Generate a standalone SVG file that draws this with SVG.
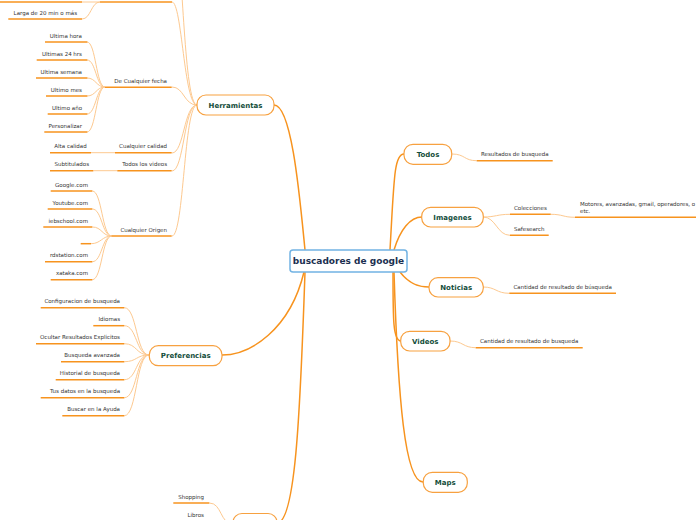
<svg xmlns="http://www.w3.org/2000/svg" width="696" height="520" viewBox="0 0 696 520">
<style>
.main{fill:none;stroke:#f7931e;stroke-width:1.5}
.sub{fill:none;stroke:#fdc990;stroke-width:1}
.ul{stroke:#f7931e;stroke-width:1.5}
.box{fill:#fff;stroke:#f7a140;stroke-width:1.2}
.root{fill:#fff;stroke:#72b3e3;stroke-width:1.5}
.nt{font-family:"DejaVu Sans",Verdana,sans-serif;font-size:7px;font-weight:bold;fill:#134d3a;text-anchor:middle}
.rt{font-family:"DejaVu Sans",Verdana,sans-serif;font-size:9px;font-weight:bold;fill:#1b2f50;text-anchor:middle}
.t{font-family:"DejaVu Sans",Verdana,sans-serif;font-size:5.5px;fill:#333}
.e{text-anchor:end}
</style>
<rect width="696" height="520" fill="#fff"/>
<g id="connectors">
<path class="main" d="M305 250 C300 200 292 105 274 105"/>
<path class="main" d="M304 272 C290 330 250 355 222 355"/>
<path class="main" d="M305 272 C300 420 295 523 277 523"/>
<path class="main" d="M390 250 C394 180 394 154 404 154"/>
<path class="main" d="M394 250 C400 230 410 217 422 217"/>
<path class="main" d="M400 272 C410 285 420 287 429 287"/>
<path class="main" d="M393 272 C393 320 393 341 401 341"/>
<path class="main" d="M394 272 C398 400 405 482 423 482"/>
<path class="sub" d="M197 105 C184 105 182 2 172 2"/>
<path class="sub" d="M197 105 C184 105 183 -40 176 -60"/>
<path class="sub" d="M197 105 C184 105 184 87 172 87"/>
<path class="sub" d="M197 105 C184 105 184 153 172 153"/>
<path class="sub" d="M197 105 C184 105 184 171 172 171"/>
<path class="sub" d="M197 105 C184 105 184 236 172 236"/>
<path class="sub" d="M82 2 L100 2"/>
<path class="sub" d="M100 2 C91 2 91 19 82 19"/>
<path class="sub" d="M105 87 C96 87 96 42 87 42"/>
<path class="sub" d="M105 87 C96 87 96 60 87 60"/>
<path class="sub" d="M105 87 C96 87 96 78 87 78"/>
<path class="sub" d="M105 87 C96 87 96 96 87 96"/>
<path class="sub" d="M105 87 C96 87 96 114 87 114"/>
<path class="sub" d="M105 87 C96 87 96 132 87 132"/>
<path class="sub" d="M91 152.7 L115 152.7"/>
<path class="sub" d="M93.3 170.7 L117.3 170.7"/>
<path class="sub" d="M111.7 236 C102 236 102 191 92.3 191"/>
<path class="sub" d="M111.7 236 C102 236 102 209 92.3 209"/>
<path class="sub" d="M111.7 236 C102 236 102 227 92.3 227"/>
<path class="sub" d="M111.7 236 C102 236 101 243.7 91 243.7"/>
<path class="sub" d="M111.7 236 C102 236 102 261.7 92.3 261.7"/>
<path class="sub" d="M111.7 236 C102 236 102 279.7 92.3 279.7"/>
<path class="sub" d="M149 355 C136 355 137 307.7 124.3 307.7"/>
<path class="sub" d="M149 355 C136 355 137 325.7 124.3 325.7"/>
<path class="sub" d="M149 355 C136 355 137 343.7 124.3 343.7"/>
<path class="sub" d="M149 355 C136 355 137 361.7 124.3 361.7"/>
<path class="sub" d="M149 355 C136 355 137 379.7 124.3 379.7"/>
<path class="sub" d="M149 355 C136 355 137 397.7 124.3 397.7"/>
<path class="sub" d="M149 355 C136 355 137 415.7 124.3 415.7"/>
<path class="sub" d="M233 524 C220 524 222 503 209.3 503"/>
<path class="sub" d="M233 524 C222 524 220 521.5 209.3 521.5"/>
<path class="sub" d="M452 154 C465 154 464 160.7 476.7 160.7"/>
<path class="sub" d="M483 217 C496 217 497 214.3 510 214.3"/>
<path class="sub" d="M483 217 C496 217 497 235.3 510 235.3"/>
<path class="sub" d="M550.7 214.3 C563 214.3 563 217.3 575 217.3"/>
<path class="sub" d="M483 287 C496 287 496 293.3 509.3 293.3"/>
<path class="sub" d="M450 341 C463 341 463 347.7 475.7 347.7"/>
</g>
<g id="root"><rect class="root" x="290" y="250" width="117" height="22" rx="3"/><text class="rt" x="348.5" y="264.2">buscadores de google</text></g>
<g id="herramientas"><rect class="box" x="197" y="95" width="77" height="20" rx="9"/><text class="nt" x="235.5" y="107.5">Herramientas</text></g>
<g id="preferencias"><rect class="box" x="149.3" y="345.7" width="72.7" height="20" rx="9"/><text class="nt" x="185.7" y="358.2">Preferencias</text></g>
<g id="bottom-node"><rect class="box" x="233" y="513.5" width="44" height="20" rx="9"/></g>
<g id="todos"><rect class="box" x="404" y="144.3" width="47.7" height="20" rx="9"/><text class="nt" x="428" y="156.8">Todos</text></g>
<g id="imagenes"><rect class="box" x="421.7" y="207.3" width="61.6" height="19.7" rx="9"/><text class="nt" x="452.5" y="219.6">Imagenes</text></g>
<g id="noticias"><rect class="box" x="429" y="277.7" width="54.3" height="19.3" rx="9"/><text class="nt" x="456.2" y="289.8">Noticias</text></g>
<g id="videos"><rect class="box" x="400.7" y="331.3" width="49.3" height="19.7" rx="9"/><text class="nt" x="425.3" y="343.6">Videos</text></g>
<g id="maps"><rect class="box" x="423.3" y="472.3" width="44" height="20" rx="9"/><text class="nt" x="445.3" y="484.8">Maps</text></g>
<g id="duracion"><line class="ul" x1="100" y1="2" x2="172" y2="2"/></g>
<g id="dur-child1"><line class="ul" x1="0" y1="2" x2="82" y2="2"/></g>
<g id="larga"><line class="ul" x1="8.3" y1="19" x2="82" y2="19"/><text class="t e" x="77" y="15">Larga de 20 min o más</text></g>
<g id="fecha"><line class="ul" x1="105" y1="87.3" x2="171.7" y2="87.3"/><text class="t e" x="167" y="83">De Cualquier fecha</text></g>
<g id="hora"><line class="ul" x1="45" y1="42" x2="87.3" y2="42"/><text class="t e" x="82" y="37.5">Ultima hora</text></g>
<g id="h24"><line class="ul" x1="36.7" y1="60" x2="87.3" y2="60"/><text class="t e" x="82" y="55.5">Ultimas 24 hrs</text></g>
<g id="semana"><line class="ul" x1="36" y1="78" x2="87.3" y2="78"/><text class="t e" x="82" y="73.5">Ultima semana</text></g>
<g id="mes"><line class="ul" x1="46" y1="96" x2="87.3" y2="96"/><text class="t e" x="82" y="91.5">Ultimo mes</text></g>
<g id="anio"><line class="ul" x1="47.7" y1="114" x2="87.3" y2="114"/><text class="t e" x="82" y="109.5">Ultimo año</text></g>
<g id="personalizar"><line class="ul" x1="44.3" y1="132" x2="87.3" y2="132"/><text class="t e" x="82" y="127.5">Personalizar</text></g>
<g id="calidad"><line class="ul" x1="115" y1="152.7" x2="171.7" y2="152.7"/><text class="t e" x="167" y="148.2">Cualquier calidad</text></g>
<g id="alta"><line class="ul" x1="50" y1="152.7" x2="91" y2="152.7"/><text class="t e" x="86.7" y="148.2">Alta calidad</text></g>
<g id="videos-todos"><line class="ul" x1="117.3" y1="170.7" x2="171.7" y2="170.7"/><text class="t e" x="167" y="166.2">Todos los videos</text></g>
<g id="subtitulados"><line class="ul" x1="50" y1="170.7" x2="93.3" y2="170.7"/><text class="t e" x="89" y="166.2">Subtitulados</text></g>
<g id="origen"><line class="ul" x1="111.7" y1="236" x2="171.7" y2="236"/><text class="t e" x="167" y="231.5">Cualquier Origen</text></g>
<g id="google"><line class="ul" x1="50.7" y1="191" x2="92.3" y2="191"/><text class="t e" x="88" y="186.5">Google.com</text></g>
<g id="youtube"><line class="ul" x1="47.7" y1="209" x2="92.3" y2="209"/><text class="t e" x="88" y="204.5">Youtube.com</text></g>
<g id="iebschool"><line class="ul" x1="43.3" y1="227" x2="92.3" y2="227"/><text class="t e" x="88" y="222.5">iebschool.com</text></g>
<g id="empty"><line class="ul" x1="80.7" y1="243.7" x2="91" y2="243.7"/></g>
<g id="rdstation"><line class="ul" x1="45" y1="261.7" x2="92.3" y2="261.7"/><text class="t e" x="88" y="257.2">rdstation.com</text></g>
<g id="xataka"><line class="ul" x1="50.7" y1="279.7" x2="92.3" y2="279.7"/><text class="t e" x="88" y="275.2">xataka.com</text></g>
<g id="config"><line class="ul" x1="40.7" y1="307.7" x2="124.3" y2="307.7"/><text class="t e" x="120" y="303.2">Configuracion de busqueda</text></g>
<g id="idiomas"><line class="ul" x1="93.3" y1="325.7" x2="124.3" y2="325.7"/><text class="t e" x="120" y="321.2">Idiomas</text></g>
<g id="ocultar"><line class="ul" x1="36" y1="343.7" x2="124.3" y2="343.7"/><text class="t e" x="120" y="339.2">Ocultar Resultados Explicitos</text></g>
<g id="avanzada"><line class="ul" x1="61" y1="361.7" x2="124.3" y2="361.7"/><text class="t e" x="120" y="357.2">Busqueda avanzada</text></g>
<g id="historial"><line class="ul" x1="55.7" y1="379.7" x2="124.3" y2="379.7"/><text class="t e" x="120" y="375.2">Historial de busqueda</text></g>
<g id="datos"><line class="ul" x1="40.7" y1="397.7" x2="124.3" y2="397.7"/><text class="t e" x="120" y="393.2">Tus datos en la busqueda</text></g>
<g id="ayuda"><line class="ul" x1="62.3" y1="415.7" x2="124.3" y2="415.7"/><text class="t e" x="120" y="411.2">Buscar en la Ayuda</text></g>
<g id="shopping"><line class="ul" x1="173.3" y1="503" x2="209.3" y2="503"/><text class="t e" x="204" y="498.8">Shopping</text></g>
<g id="libros"><line class="ul" x1="180" y1="521.5" x2="209.3" y2="521.5"/><text class="t e" x="204" y="517">Libros</text></g>
<g id="resultados"><line class="ul" x1="476.7" y1="160.7" x2="552.7" y2="160.7"/><text class="t" x="481" y="156.2">Resultados de busqueda</text></g>
<g id="colecciones"><line class="ul" x1="510" y1="214.3" x2="550.7" y2="214.3"/><text class="t" x="514" y="209.8">Colecciones</text></g>
<g id="safesearch"><line class="ul" x1="510" y1="235.3" x2="548.7" y2="235.3"/><text class="t" x="514" y="230.8">Safesearch</text></g>
<g id="motores"><line class="ul" x1="575" y1="217.3" x2="696" y2="217.3"/><text class="t" x="580" y="206">Motores, avanzadas, gmail, operadores, o</text><text class="t" x="580" y="212.7">etc.</text></g>
<g id="cant-noticias"><line class="ul" x1="509.3" y1="293.3" x2="616" y2="293.3"/><text class="t" x="513.5" y="288.8">Cantidad de resultado de búsqueda</text></g>
<g id="cant-videos"><line class="ul" x1="475.7" y1="347.7" x2="582.7" y2="347.7"/><text class="t" x="480" y="343.2">Cantidad de resultado de busqueda</text></g>
</svg>
